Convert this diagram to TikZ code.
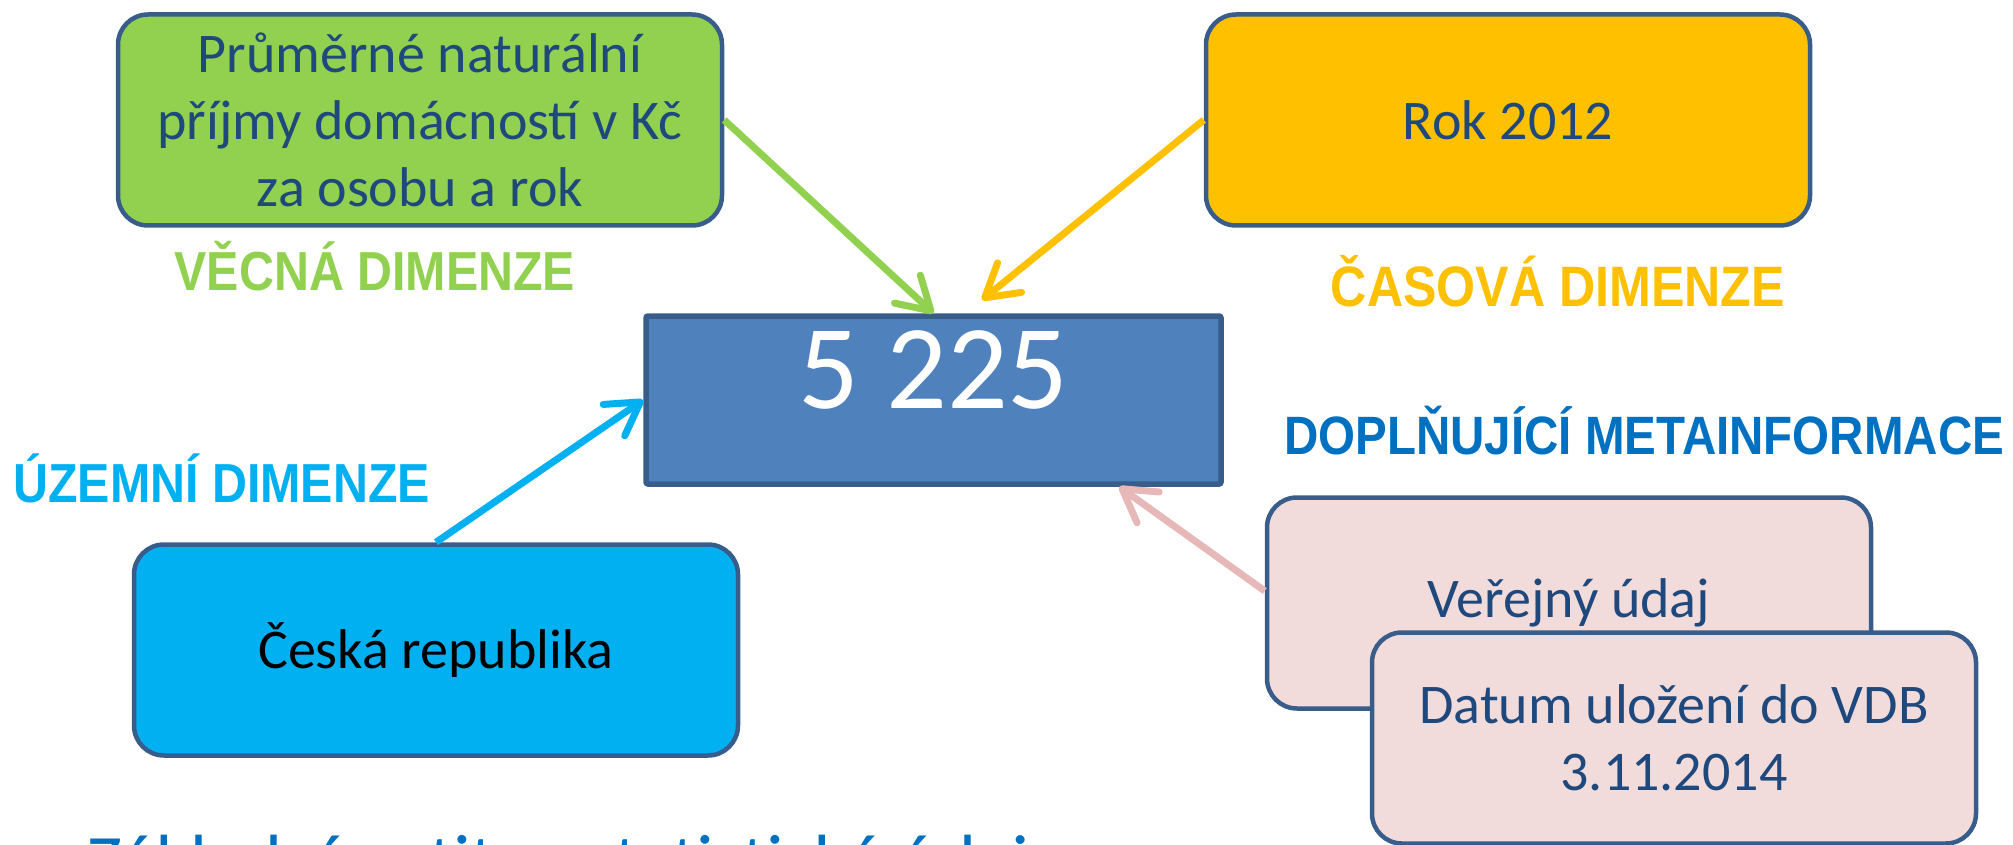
\documentclass[tikz,border=0pt]{standalone}
\usepackage{fontspec}
\setmainfont{Carlito}
\newfontfamily\labfont[FakeStretch=0.88]{Liberation Sans}
\usetikzlibrary{arrows.meta,calc}
\definecolor{boxline}{HTML}{385D8A}
\definecolor{txtblue}{HTML}{1F497D}
\definecolor{cgreen}{HTML}{92D050}
\definecolor{cyellow}{HTML}{FFC000}
\definecolor{ccyan}{HTML}{00B0F0}
\definecolor{cblue}{HTML}{4F81BD}
\definecolor{cpink}{HTML}{F2DCDB}
\definecolor{cpinkarrow}{HTML}{E6B9B8}
\definecolor{cdark}{HTML}{0070C0}
\tikzset{
  dimbox/.style={draw=boxline, line width=4.5pt, rounded corners=30pt,
    minimum width=604pt, minimum height=211pt, inner sep=0pt, align=center,
    font=\fontsize{56}{67}\selectfont, text=txtblue},
  dimlabel/.style={font=\labfont\bfseries\fontsize{55}{60}\selectfont, inner sep=0pt, anchor=base},
  conn/.style={line width=7pt, -{Straight Barb[length=32pt,width=38pt,round]}},
}
\begin{document}
\begin{tikzpicture}[x=1pt,y=-1pt]
\useasboundingbox (0,0) rectangle (2013,845);
\clip (0,0) rectangle (2013,845);
% boxes
\node[dimbox, fill=cgreen] (green) at (420,120) {Průměrné naturální\\příjmy domácností v Kč\\za osobu a rok};
\node[dimbox, fill=cyellow] (yellow) at (1508,120) {Rok 2012};
\node[draw=boxline, line width=5.5pt, fill=cblue, rounded corners=2pt,
  minimum width=575pt, minimum height=168pt, inner sep=0pt] (center) at (933.5,400) {};
\node[text=white, font=\fontsize{120}{136}\selectfont, inner sep=0pt] (num) at (933.5,370) {5 225};
\node[dimbox, fill=ccyan, text=black] (cr) at (436,650) {Česká republika};
\node[dimbox, fill=cpink] (pink1) at (1569,603) {Veřejný údaj};
\node[dimbox, fill=cpink] (pink2) at (1674,738) {Datum uložení do VDB\\3.11.2014};
% labels
\node[dimlabel, text=cgreen] (lvec) at (375,290) {VĚCNÁ DIMENZE};
\node[dimlabel, text=cyellow, font=\labfont\bfseries\fontsize{57}{60}\selectfont] (lcas) at (1558,306) {ČASOVÁ DIMENZE};
\node[dimlabel, text=ccyan, anchor=base west] (luz) at (13,502) {ÚZEMNÍ DIMENZE};
\node[dimlabel, text=cdark, anchor=base west, font=\labfont\bfseries\fontsize{54}{60}\selectfont] (ldop) at (1284,454) {DOPLŇUJÍCÍ METAINFORMACE};
% partially visible title
\node[text=cdark, font=\fontsize{74}{80}\selectfont, inner sep=0pt, anchor=base west] (title) at (87,886) {Základní entita - statistický údaj};
% connectors
\coordinate (oend) at (982,300);
\coordinate (pend) at ($(center.south west)!0.82!(center.south east)$);
\draw[conn, cgreen] (green.east) -- (center.north);
\draw[conn, cyellow] (yellow.west) -- (oend);
\draw[conn, ccyan] (cr.north) -- (center.west);
\draw[conn, cpinkarrow] ($(pink1.west)+(0,-12)$) -- (pend);
\end{tikzpicture}
\end{document}
